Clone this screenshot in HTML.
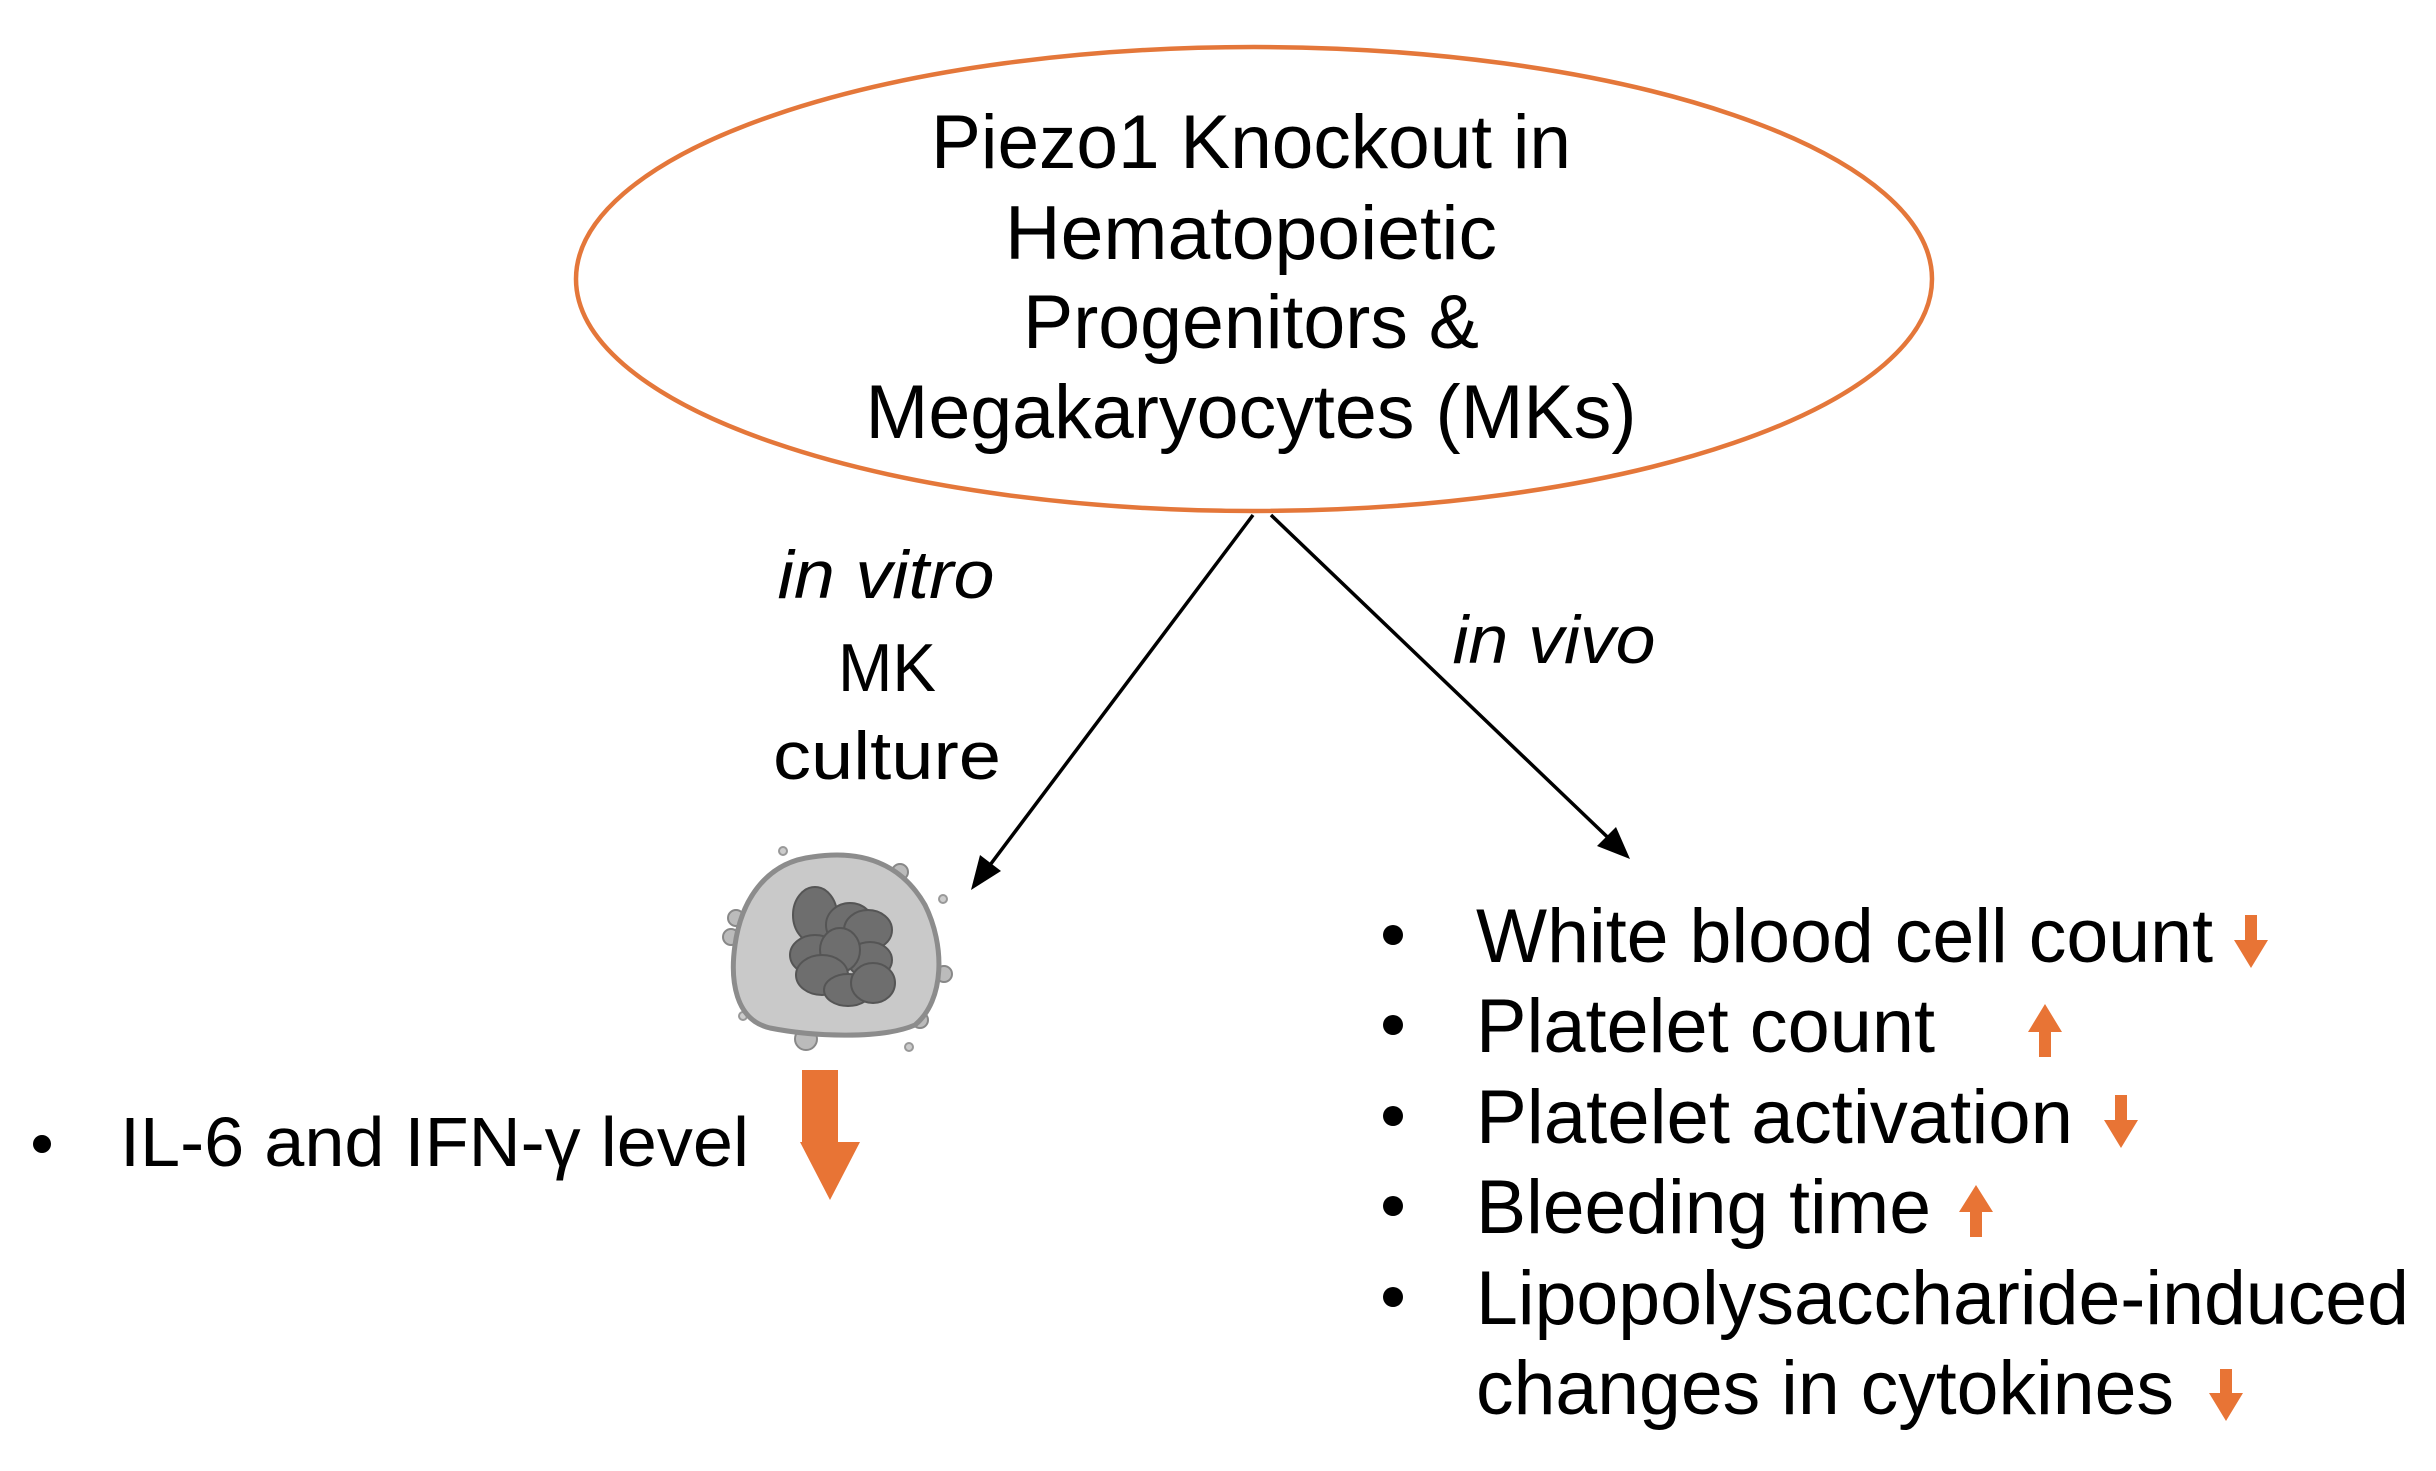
<!DOCTYPE html>
<html><head><meta charset="utf-8"><style>
html,body{margin:0;padding:0;background:#fff;}
svg{display:block;}
text{font-family:"Liberation Sans",sans-serif;fill:#000;}
</style></head><body>
<svg width="2436" height="1471" viewBox="0 0 2436 1471" xmlns="http://www.w3.org/2000/svg">
<ellipse cx="1254" cy="279" rx="678" ry="232" fill="none" stroke="#e4773a" stroke-width="4.5"/>
<g font-size="76" text-anchor="middle">
<text x="1251" y="168" textLength="640" lengthAdjust="spacingAndGlyphs">Piezo1 Knockout in</text>
<text x="1251" y="259" textLength="492" lengthAdjust="spacingAndGlyphs">Hematopoietic</text>
<text x="1251" y="348" textLength="456" lengthAdjust="spacingAndGlyphs">Progenitors &amp;</text>
<text x="1251" y="438" textLength="771" lengthAdjust="spacingAndGlyphs">Megakaryocytes (MKs)</text>
</g>
<line x1="1253" y1="515" x2="978" y2="881" stroke="#000" stroke-width="3.5"/>
<polygon points="971,890 980,855 1001,871" fill="#000"/>
<line x1="1271" y1="515" x2="1622" y2="851" stroke="#000" stroke-width="3.5"/>
<polygon points="1630,859 1597,846 1616,827" fill="#000"/>
<g font-size="68" text-anchor="middle">
<text x="886" y="598" font-style="italic" textLength="217" lengthAdjust="spacingAndGlyphs">in vitro</text>
<text x="887" y="691" textLength="98" lengthAdjust="spacingAndGlyphs">MK</text>
<text x="887" y="779" textLength="228" lengthAdjust="spacingAndGlyphs">culture</text>
<text x="1554" y="663" font-style="italic" textLength="203" lengthAdjust="spacingAndGlyphs">in vivo</text>
</g>
<g>
<circle cx="783" cy="851" r="4" fill="#ccc" stroke="#999" stroke-width="2"/>
<circle cx="943" cy="899" r="4" fill="#ccc" stroke="#999" stroke-width="2"/>
<circle cx="743" cy="1016" r="4" fill="#ccc" stroke="#999" stroke-width="2"/>
<circle cx="909" cy="1047" r="4" fill="#ccc" stroke="#999" stroke-width="2"/>
<circle cx="900" cy="872" r="8" fill="#bbb" stroke="#888" stroke-width="2"/>
<circle cx="736" cy="918" r="8" fill="#bbb" stroke="#888" stroke-width="2"/>
<circle cx="731" cy="937" r="8" fill="#bbb" stroke="#888" stroke-width="2"/>
<circle cx="944" cy="974" r="8" fill="#bbb" stroke="#888" stroke-width="2"/>
<circle cx="920" cy="1020" r="8" fill="#bbb" stroke="#888" stroke-width="2"/>
<circle cx="806" cy="1039" r="11" fill="#bbb" stroke="#888" stroke-width="2"/>
<path d="M812,857 C870,848 905,870 925,905 C945,945 945,1000 915,1025 C880,1040 810,1036 770,1028 C735,1020 730,980 735,945 C742,895 770,862 812,857 Z" fill="#c9c9c9" stroke="#8c8c8c" stroke-width="5"/>
<g fill="#6e6e6e" stroke="#555" stroke-width="2">
<ellipse cx="815" cy="915" rx="22" ry="28"/>
<ellipse cx="850" cy="925" rx="24" ry="22"/>
<ellipse cx="868" cy="930" rx="24" ry="20"/>
<ellipse cx="815" cy="955" rx="25" ry="20"/>
<ellipse cx="870" cy="960" rx="22" ry="18"/>
<ellipse cx="840" cy="950" rx="20" ry="22"/>
<ellipse cx="822" cy="975" rx="26" ry="20"/>
<ellipse cx="848" cy="990" rx="24" ry="16"/>
<ellipse cx="873" cy="983" rx="22" ry="20"/>
</g>
</g>
<polygon points="802,1070 838,1070 838,1142 860,1142 830,1200 800,1142 802,1142" fill="#e87435"/>
<circle cx="42" cy="1144" r="9" fill="#000"/>
<text x="120" y="1166" font-size="70" textLength="629" lengthAdjust="spacingAndGlyphs">IL-6 and IFN-γ level</text>
<g fill="#000">
<circle cx="1393" cy="935" r="10"/>
<circle cx="1393" cy="1025" r="10"/>
<circle cx="1393" cy="1116" r="10"/>
<circle cx="1393" cy="1206" r="10"/>
<circle cx="1393" cy="1297" r="10"/>
</g>
<g font-size="76">
<text x="1476" y="962" textLength="737" lengthAdjust="spacingAndGlyphs">White blood cell count</text>
<text x="1476" y="1052" textLength="459" lengthAdjust="spacingAndGlyphs">Platelet count</text>
<text x="1476" y="1143" textLength="597" lengthAdjust="spacingAndGlyphs">Platelet activation</text>
<text x="1476" y="1233" textLength="455" lengthAdjust="spacingAndGlyphs">Bleeding time</text>
<text x="1476" y="1324" textLength="933" lengthAdjust="spacingAndGlyphs">Lipopolysaccharide-induced</text>
<text x="1476" y="1414" textLength="698" lengthAdjust="spacingAndGlyphs">changes in cytokines</text>
</g>
<g fill="#e87435" transform="translate(-10,0)">
<polygon points="2255,915 2267,915 2267,940 2278,940 2261,968 2244,940 2255,940"/>
<polygon points="2049,1057 2061,1057 2061,1032 2072,1032 2055,1004 2038,1032 2049,1032"/>
<polygon points="2125,1095 2137,1095 2137,1120 2148,1120 2131,1148 2114,1120 2125,1120"/>
<polygon points="1980,1237 1992,1237 1992,1212 2003,1212 1986,1185 1969,1212 1980,1212"/>
<polygon points="2230,1369 2242,1369 2242,1393 2253,1393 2236,1421 2219,1393 2230,1393"/>
</g>
</svg>
</body></html>
